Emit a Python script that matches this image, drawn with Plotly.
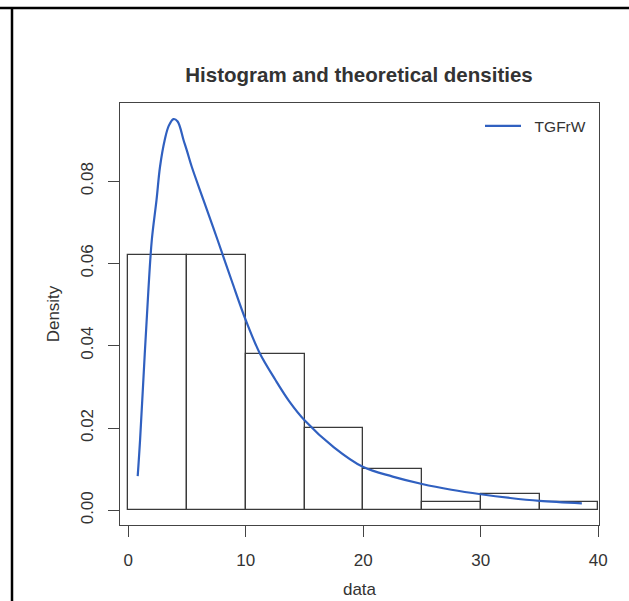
import plotly.graph_objects as go

# Histogram (density) data: bins of width 5
bin_left = [0, 5, 10, 15, 20, 25, 30, 35]
bin_width = 5
density = [0.062, 0.062, 0.038, 0.020, 0.010, 0.002, 0.004, 0.002]

# Theoretical density curve (TGFrW)
curve_x = [0.8, 1.0, 1.4, 1.7, 2.0, 2.4, 2.7, 3.1, 3.45, 3.85, 4.2, 4.7, 5.0, 5.4, 6.4, 7.6,
           8.8, 10.0, 11.2, 12.5, 13.7, 15.0, 17.5, 20.0, 22.5, 25.0, 27.5, 30.0,
           32.5, 35.0, 38.6]
curve_y = [0.0083, 0.017, 0.038, 0.053, 0.0657, 0.0754, 0.0835, 0.090, 0.0935, 0.0951,
           0.0945, 0.090, 0.0873, 0.0835, 0.0754, 0.0657, 0.0558, 0.0462, 0.0381, 0.0318,
           0.0265, 0.0219, 0.0153, 0.0105, 0.0082, 0.0064, 0.0050, 0.0039, 0.0030,
           0.0023, 0.0017]

x_ticks = [0, 10, 20, 30, 40]
y_ticks = [0.00, 0.02, 0.04, 0.06, 0.08]
y_tick_text = ["0.00", "0.02", "0.04", "0.06", "0.08"]

FONT = "Liberation Sans, Arial, Helvetica, sans-serif"
TXT = "#333333"
W, H = 629, 601
ML, MR, MT, MB = 120, 30, 103, 76

fig = go.Figure()
fig.add_trace(go.Bar(
    x=[b + bin_width / 2 for b in bin_left], y=density, width=bin_width,
    marker=dict(color="white", line=dict(color="#3a3a3a", width=1.3)),
    showlegend=False, hoverinfo="skip"))
fig.add_trace(go.Scatter(
    x=curve_x, y=curve_y, mode="lines", name="\u00a0\u00a0TGFrW",
    line=dict(color="#3060c0", width=2.2, shape="spline", smoothing=1.0)))

pw = W - ML - MR
ph = H - MT - MB
def px(x):
    return (x - ML) / pw
def py(y):
    return (H - MB - y) / ph

shapes = [
    dict(type="line", xref="paper", yref="paper", x0=px(0), x1=px(W + 5), y0=py(8), y1=py(8),
         line=dict(color="black", width=2.5)),
    dict(type="line", xref="paper", yref="paper", x0=px(12), x1=px(12), y0=py(8), y1=py(H + 5),
         line=dict(color="black", width=2.5)),
]

fig.update_layout(
    width=W, height=H,
    margin=dict(l=ML, r=MR, t=MT, b=MB, autoexpand=False),
    paper_bgcolor="white", plot_bgcolor="white",
    font=dict(family=FONT, color=TXT, size=17),
    title=dict(text="<b>Histogram and theoretical densities</b>", xref="paper", x=px(359),
               xanchor="center", y=1 - 75 / H, yanchor="middle",
               font=dict(size=20.5, color=TXT)),
    bargap=0,
    shapes=shapes,
    legend=dict(x=px(480), y=0.985, xanchor="left", yanchor="top", bgcolor="rgba(0,0,0,0)",
                font=dict(size=15.5, color=TXT), itemwidth=36),
    xaxis=dict(range=[-0.706, 40.06], tickvals=x_ticks, ticktext=[str(v) for v in x_ticks],
               showgrid=False, zeroline=False, showline=True, mirror=True, automargin=False,
               linecolor="#444", linewidth=1.3, ticks="outside", ticklen=11, tickwidth=1.3,
               tickcolor="#444", ticklabelstandoff=8,
               title=dict(text="data", standoff=14, font=dict(size=17))),
    yaxis=dict(range=[-0.00357, 0.0990], tickvals=y_ticks, ticktext=y_tick_text,
               tickangle=-90, showgrid=False, zeroline=False, showline=True, mirror=True,
               automargin=False,
               linecolor="#444", linewidth=1.3, ticks="outside", ticklen=11, tickwidth=1.3,
               tickcolor="#444", ticklabelstandoff=8,
               title=dict(text="Density", standoff=14, font=dict(size=17))),
)

fig.write_html("out.html", config={"displayModeBar": False},
               post_script="document.body.style.margin='0px';")
